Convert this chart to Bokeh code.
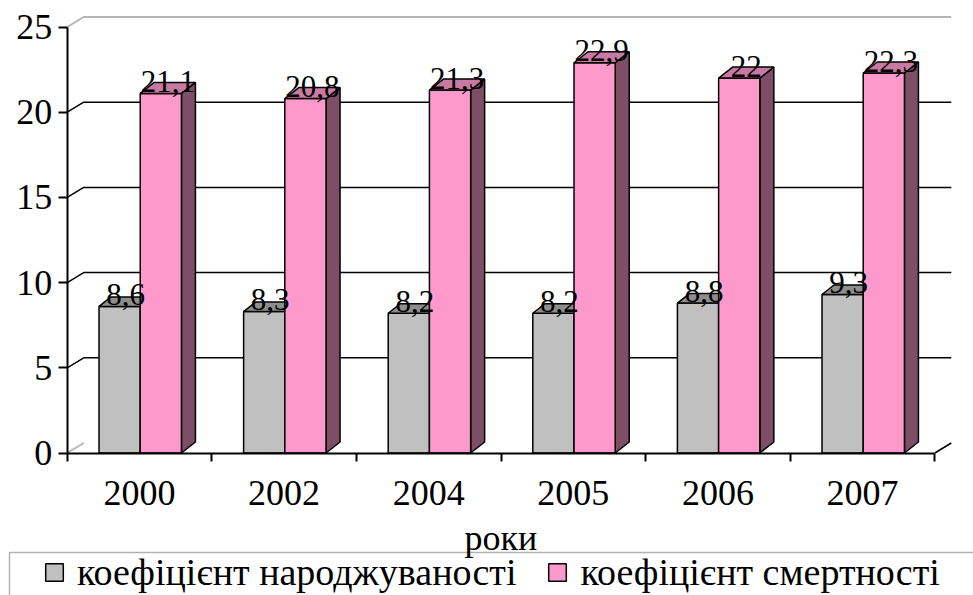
from bokeh.plotting import figure
from bokeh.models import (LinearAxis, FixedTicker, Range1d, Legend, LegendItem,
                          Label, BoxAnnotation, ColumnDataSource)
from bokeh.core.properties import value
from bokeh.embed import file_html
from bokeh.resources import INLINE

# ---------------- data ----------------
years = ["2000", "2002", "2004", "2005", "2006", "2007"]
birth = [8.6, 8.3, 8.2, 8.2, 8.8, 9.3]
death = [21.1, 20.8, 21.3, 22.9, 22.0, 22.3]
y_ticks = [0, 5, 10, 15, 20, 25]
series_names = ["коефіцієнт народжуваності", "коефіцієнт смертності"]
x_title = "роки"

# ---------------- geometry / style ----------------
W, H = 973, 595
SX, SY = 144.6, 17.04          # px per category, px per unit
X0PX, Y0PX = 66.7, 452.5       # canvas position of the origin
FONT = "Liberation Serif"

WDX, WDY = 16.5 / SX, 10.0 / SY          # wall depth
GDX, GDY = 12.0 / SX, 9.5 / SY           # grey bar depth
PDX, PDY = 14.0 / SX, 11.0 / SY          # pink bar depth
G_L, G_R = 0.22, 0.505
P_L, P_R = 0.505, 0.79

GREY, GREY_TOP = "#C0C0C0", "#8E8E8E"
PINK, PINK_TOP, PINK_SIDE = "#FF99CC", "#C97AA2", "#7E4D66"

n = len(years)
ymax = y_ticks[-1]

p = figure(width=W, height=H, output_backend="svg", toolbar_location=None,
           x_axis_type=None, y_axis_type=None,
           x_range=Range1d(-X0PX / SX, (W - X0PX) / SX),
           y_range=Range1d(-(H - Y0PX) / SY, Y0PX / SY),
           min_border=0)
p.outline_line_color = None
p.background_fill_color = "white"
p.border_fill_color = "white"

# ---------------- walls / gridlines ----------------
gx, gy = [], []
for v in y_ticks[1:-1]:
    gx.append([0, WDX, n + WDX])
    gy.append([v, v + WDY, v + WDY])
p.multi_line(gx, gy, line_color="black", line_width=1.5)
p.multi_line([[0, WDX, n + WDX]], [[ymax, ymax + WDY, ymax + WDY]],
             line_color="#B4B4B4", line_width=2)
p.line([0, WDX], [0, WDY], line_color="#B4B4B4", line_width=2)
p.line([n, n + WDX], [0, WDY], line_color="black", line_width=1.5)

# ---------------- bars ----------------
idx = list(range(n))
g_left = [i + G_L for i in idx]
g_right = [i + G_R for i in idx]
p_left = [i + P_L for i in idx]
p_right = [i + P_R for i in idx]

r_grey = p.quad(left=g_left, right=g_right, bottom=[0] * n, top=birth,
                fill_color=GREY, line_color="black", line_width=1.5)
p.patches(xs=[[l, r, r + GDX, l + GDX] for l, r in zip(g_left, g_right)],
          ys=[[v, v, v + GDY, v + GDY] for v in birth],
          fill_color=GREY_TOP, line_color="black", line_width=1.5)

p.patches(xs=[[r, r + PDX, r + PDX, r] for r in p_right],
          ys=[[0, PDY, v + PDY, v] for v in death],
          fill_color=PINK_SIDE, line_color="black", line_width=1.5)
r_pink = p.quad(left=p_left, right=p_right, bottom=[0] * n, top=death,
                fill_color=PINK, line_color="black", line_width=1.5)
p.patches(xs=[[l, r, r + PDX, l + PDX] for l, r in zip(p_left, p_right)],
          ys=[[v, v, v + PDY, v + PDY] for v in death],
          fill_color=PINK_TOP, line_color="black", line_width=1.5)


def fmt(v):
    return f"{v:g}".replace(".", ",")


lab = ColumnDataSource(dict(
    x=[i + (G_L + G_R) / 2 + GDX / 2 for i in idx] + [i + (P_L + P_R) / 2 + PDX / 2 for i in idx],
    y=birth + death,
    t=[fmt(v) for v in birth] + [fmt(v) for v in death]))
p.text(x="x", y="y", text="t", source=lab, text_font=value(FONT),
       text_font_size="31px", text_align="center", text_baseline="alphabetic",
       y_offset=-12, text_color="black")

# ---------------- axes ----------------
yax = LinearAxis(fixed_location=0, ticker=FixedTicker(ticks=y_ticks), bounds=(0, ymax))
yax.axis_line_width = 2
yax.major_tick_line_width = 2
yax.major_tick_out = 9
yax.major_tick_in = 0
yax.minor_tick_out = 0
yax.minor_tick_in = 0
yax.major_label_standoff = 6
yax.major_label_text_font = FONT
yax.major_label_text_font_size = "36px"
yax.major_label_text_color = "black"
p.add_layout(yax, "left")

centers = [i + 0.5 for i in idx]
xax = LinearAxis(fixed_location=0,
                 ticker=FixedTicker(ticks=centers, minor_ticks=list(range(n + 1))),
                 bounds=(0, n))
xax.major_label_overrides = {c: y for c, y in zip(centers, years)}
xax.axis_line_width = 2
xax.major_tick_out = 0
xax.major_tick_in = 0
xax.minor_tick_out = 8
xax.minor_tick_in = 0
xax.minor_tick_line_width = 2
xax.major_label_standoff = 20
xax.major_label_text_font = FONT
xax.major_label_text_font_size = "36px"
xax.major_label_text_color = "black"
p.add_layout(xax, "below")

# ---------------- legend ----------------
p.add_layout(BoxAnnotation(left=9, right=W + 20, bottom=-20, top=H - 552,
                           left_units="screen", right_units="screen",
                           bottom_units="screen", top_units="screen",
                           fill_color="white", fill_alpha=1.0,
                           line_color="black", line_width=1.5))
p.add_layout(Label(x=n / 2, y=H - 537, x_units="data", y_units="screen", text=x_title,
                   text_font=FONT, text_font_size="36px", text_align="center",
                   text_baseline="alphabetic", text_color="black"))
legend = Legend(items=[LegendItem(label=series_names[0], renderers=[r_grey]),
                       LegendItem(label=series_names[1], renderers=[r_pink])],
                orientation="horizontal", location=(43, 1),
                label_text_font=FONT, label_text_font_size="38px",
                label_text_color="black",
                glyph_width=22, glyph_height=22, label_standoff=12,
                spacing=30, padding=0, margin=0,
                border_line_color=None, background_fill_alpha=0)
p.add_layout(legend, "center")

open("out.html", "w").write(file_html(p, INLINE))
